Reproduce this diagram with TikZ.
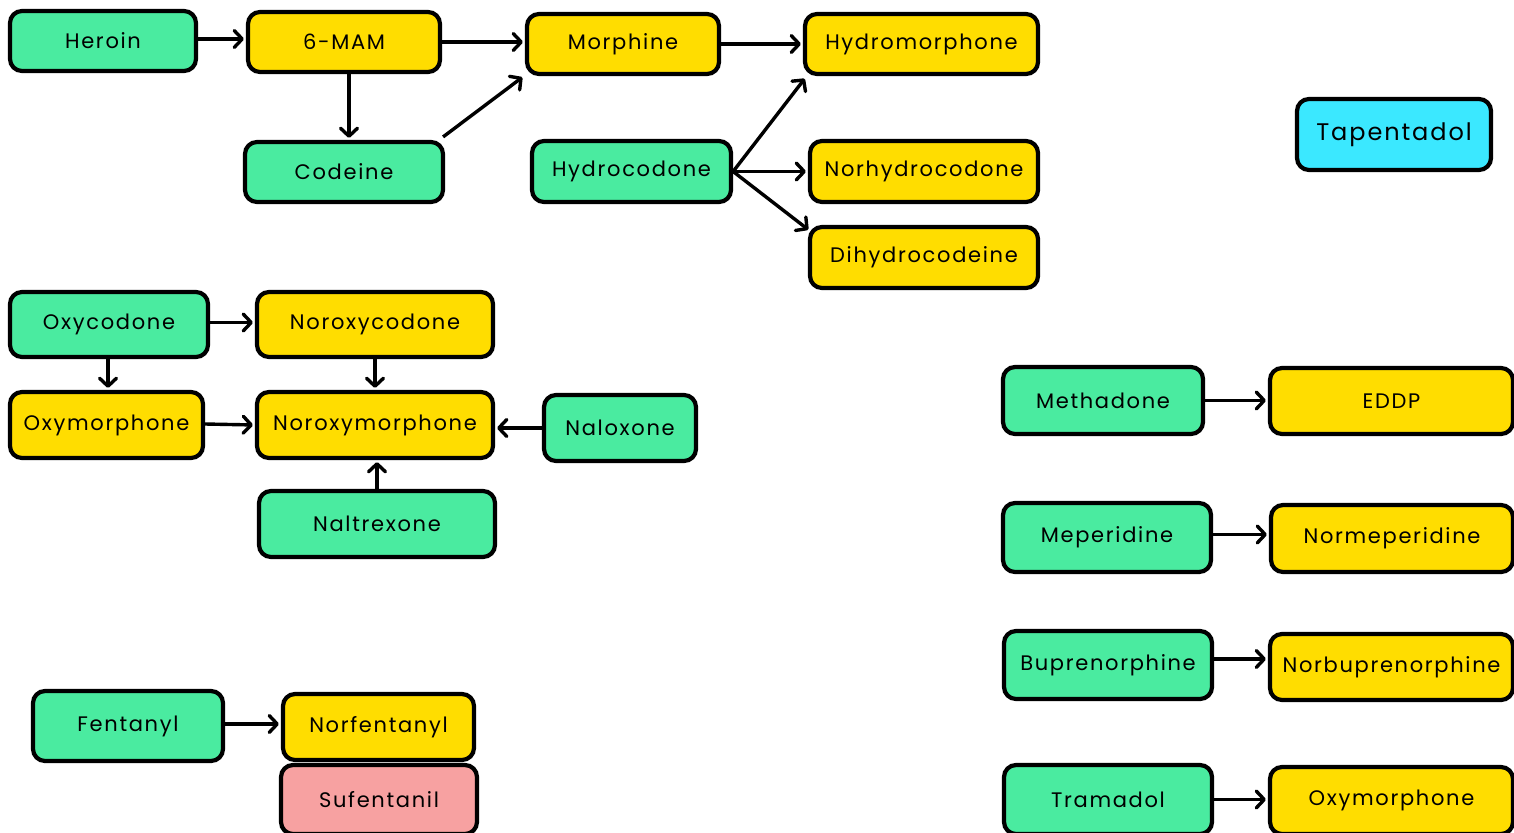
\documentclass[tikz,border=0pt]{standalone}
\usepackage{fontspec}
\setmainfont[LetterSpace=8]{Poppins}
\usetikzlibrary{arrows.meta}
\definecolor{cgreen}{HTML}{4AEBA0}
\definecolor{cyellow}{HTML}{FFDD00}
\definecolor{ccyan}{HTML}{3BE8FF}
\definecolor{cpink}{HTML}{F7A1A1}
\newcommand\bx[7]{\node[box,#6, minimum width={(#4-#2)*1pt}, minimum height={(#5-#3)*1pt}] (#1) at ({(#2+#4)/2},{(#3+#5)/2}) {#7};}
\tikzset{
  box/.style={draw=black, line width=4.2pt, rounded corners=12pt, inner sep=0pt,
    font=\fontsize{21}{25}\selectfont, text=black},
  g/.style={fill=cgreen}, yl/.style={fill=cyellow}, cy/.style={fill=ccyan, font=\fontsize{24}{29}\selectfont},
  pk/.style={fill=cpink},
  arr/.style={line width=3.4pt, -{Straight Barb[length=8pt,width=17pt,round]}, shorten >=2pt}
}
\begin{document}
\begin{tikzpicture}[x=1pt,y=-1pt]
\useasboundingbox[fill=white] (0,0) rectangle (1514,832);
% group 1
\bx{heroin}{10}{11}{196}{71}{g}{Heroin}
\bx{mam}{248}{12}{440}{72}{yl}{6-MAM}
\bx{morphine}{527}{14}{719}{74}{yl}{Morphine}
\bx{hydromorphone}{805}{14}{1038}{74}{yl}{Hydromorphone}
\bx{codeine}{245}{142}{443}{202}{g}{Codeine}
\bx{hydrocodone}{532}{141}{731}{202}{g}{Hydrocodone}
\bx{norhydro}{810}{141}{1038}{202}{yl}{Norhydrocodone}
\bx{dihydro}{810}{227}{1038}{288}{yl}{Dihydrocodeine}
\bx{tapentadol}{1297}{99}{1491}{170}{cy}{Tapentadol}
% group 2
\bx{oxycodone}{10}{292}{208}{357}{g}{Oxycodone}
\bx{noroxycodone}{257}{292}{493}{357}{yl}{Noroxycodone}
\bx{oxymorphone}{10}{392}{203}{458}{yl}{Oxymorphone}
\bx{noroxymorphone}{257}{392}{493}{458}{yl}{Noroxymorphone}
\bx{naloxone}{544}{395}{696}{461}{g}{Naloxone}
\bx{naltrexone}{259}{491}{495}{557}{g}{Naltrexone}
% group 3
\bx{fentanyl}{33}{691}{223}{761}{g}{Fentanyl}
\bx{norfentanyl}{283}{694}{474}{760}{yl}{Norfentanyl}
\bx{sufentanil}{281}{765}{477}{834}{pk}{Sufentanil}
% right column
\bx{methadone}{1003}{367}{1203}{434}{g}{Methadone}
\bx{eddp}{1270}{368}{1513}{434}{yl}{EDDP}
\bx{meperidine}{1003}{503}{1211}{572}{g}{Meperidine}
\bx{normeperidine}{1271}{505}{1513}{572}{yl}{Normeperidine}
\bx{buprenorphine}{1004}{631}{1212}{699}{g}{Buprenorphine}
\bx{norbup}{1270}{634}{1513}{700}{yl}{Norbuprenorphine}
\bx{tramadol}{1004}{765}{1212}{834}{g}{Tramadol}
\bx{oxymorphoneb}{1270}{767}{1513}{834}{yl}{Oxymorphone}
% arrows
\draw[arr] ([yshift=2]heroin.east) -- ([yshift=2]heroin.east -| mam.west);
\draw[arr] (mam.east) -- (mam.east -| morphine.west);
\draw[arr] (morphine.east) -- (morphine.east -| hydromorphone.west);
\draw[arr] ([xshift=5]mam.south) -- ([xshift=5]codeine.north);
\draw[arr] ([shift={(-2,-3)}]codeine.north east) -- ([xshift=-1]morphine.south west);
\draw[arr] (hydrocodone.east) -- ([shift={(3,1)}]hydromorphone.south west);
\draw[arr] (hydrocodone.east) -- (hydrocodone.east -| norhydro.west);
\draw[arr] (hydrocodone.east) -- ([shift={(2,6)}]dihydro.north west);
\draw[arr] ([yshift=2]oxycodone.east) -- ([yshift=2]oxycodone.east -| noroxycodone.west);
\draw[arr] ([xshift=-1]oxycodone.south) -- ([xshift=-1]oxycodone.south |- oxymorphone.north);
\draw[arr] (noroxycodone.south) -- (noroxymorphone.north);
\draw[arr] ([yshift=1]oxymorphone.east) -- (noroxymorphone.west);
\draw[arr] (naloxone.west) -- (naloxone.west -| noroxymorphone.east);
\draw[arr] (naltrexone.north) -- (naltrexone.north |- noroxymorphone.south);
\draw[arr] ([yshift=2]fentanyl.east) -- ([yshift=2]fentanyl.east -| norfentanyl.west);
\draw[arr] (methadone.east) -- (methadone.east -| eddp.west);
\draw[arr] ([yshift=3]meperidine.east) -- ([yshift=3]meperidine.east -| normeperidine.west);
\draw[arr] ([yshift=6]buprenorphine.east) -- ([yshift=6]buprenorphine.east -| norbup.west);
\draw[arr] (tramadol.east) -- (tramadol.east -| oxymorphoneb.west);
\end{tikzpicture}
\end{document}
